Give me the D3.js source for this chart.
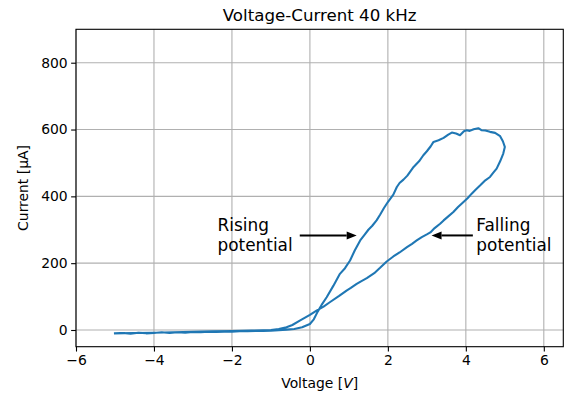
<!DOCTYPE html>
<html>
<head>
<meta charset="utf-8">
<script src="https://cdn.jsdelivr.net/npm/d3@7"></script>
<style>
html,body{margin:0;padding:0;background:#fff;}
svg{display:block;}
text{font-family:"DejaVu Sans",sans-serif;fill:#000;}
</style>
</head>
<body>
<svg id="chart" width="565" height="394"></svg>
<script>
// ---- data ----
const title = "Voltage-Current 40 kHz";
const xTicks = [-6, -4, -2, 0, 2, 4, 6];
const yTicks = [0, 200, 400, 600, 800];
const xDomain = [-6, 6.5];
const yDomain = [-50, 900];

// measured loop: rising potential then falling potential (V in volts, I in µA)
const voltage = [
  -5.0,-4.8,-4.6,-4.4,-4.2,-4.0,-3.8,-3.6,-3.4,-3.2,-3.0,-2.8,-2.6,-2.4,-2.2,-2.0,-1.8,-1.6,-1.4,-1.2,-1.0,-0.8,-0.6,-0.4,-0.2,
  0.0,0.1,0.2,0.3,0.43,0.6,0.77,0.9,1.03,1.15,1.29,1.4,1.5,1.6,1.71,1.8,1.9,2.0,2.14,2.23,2.3,2.4,2.5,2.66,2.8,2.91,3.0,3.1,3.17,
  3.3,3.43,3.55,3.64,3.75,3.85,3.95,4.02,4.1,4.2,4.32,4.4,4.5,4.62,4.75,4.88,4.95,5.0,4.96,
  4.88,4.79,4.7,4.62,4.5,4.37,4.25,4.15,4.05,3.94,3.8,3.68,3.55,3.43,3.34,3.2,3.09,3.0,2.87,2.74,2.62,2.49,2.3,2.14,1.97,1.8,
  1.65,1.46,1.3,1.2,1.05,0.94,0.75,0.51,0.35,0.17,0.0,-0.26,-0.45,-0.6,-0.8,-1.0,-1.2,-1.5,-2.0,-2.5,-3.0,-3.5,-4.0,-4.5,-5.0
];
const current = [
  -10,-9,-11,-8,-10,-9,-7,-9,-7,-8,-6,-7,-5,-6,-5,-5,-4,-4,-3,-3,-2,-1,1,3,8,
  18,32,55,75,98,132,168,185,208,238,268,285,300,312,328,345,365,383,405,428,440,450,462,488,505,523,535,550,563,
  568,575,585,591,588,583,595,598,596,601,604,598,597,593,590,580,565,548,528,
  505,483,470,458,448,433,420,408,395,383,368,353,340,328,318,305,292,286,278,268,258,248,232,220,205,186,
  170,155,145,138,126,118,102,83,70,58,45,28,15,8,3,0,-1,-2,-3,-4,-5,-7,-8,-9,-10
];

// annotations: text, text anchor position (data), arrow tail (data), arrow tip (data)
const annTexts = [["Rising", "potential"], ["Falling", "potential"]];
const annTextV = [-2.37, 4.27];
const annTextI = [297, 297];
const annTailV = [-0.26, 4.18];
const annTipV = [1.2, 3.12];
const annArrowI = [283, 283];

// ---- layout ----
const svg = d3.select("#chart");
const m = {left: 76, right: 563.3, top: 29.3, bottom: 346.7};
const x = d3.scaleLinear().domain(xDomain).range([m.left, m.right]);
const y = d3.scaleLinear().domain(yDomain).range([m.bottom, m.top]);
const fmt = d => (d < 0 ? "\u2212" + Math.abs(d) : String(d));

svg.append("rect").attr("width", 565).attr("height", 394).attr("fill", "#fff");

// grid
const grid = svg.append("g");
grid.selectAll(".gx").data(xTicks).enter().append("line")
  .attr("x1", d => x(d)).attr("x2", d => x(d)).attr("y1", m.top).attr("y2", m.bottom)
  .attr("stroke", "#b0b0b0").attr("stroke-width", 1.1);
grid.selectAll(".gy").data(yTicks).enter().append("line")
  .attr("y1", d => y(d)).attr("y2", d => y(d)).attr("x1", m.left).attr("x2", m.right)
  .attr("stroke", "#b0b0b0").attr("stroke-width", 1.1);

// curve
const pts = voltage.map((v, i) => [v, current[i]]);
svg.append("path").datum(pts)
  .attr("d", d3.line().x(d => x(d[0])).y(d => y(d[1])))
  .attr("fill", "none").attr("stroke", "#1f77b4").attr("stroke-width", 2.08)
  .attr("stroke-linejoin", "round").attr("stroke-linecap", "square");

// axes
const xAxis = svg.append("g").attr("transform", `translate(0,${m.bottom})`)
  .call(d3.axisBottom(x).tickValues(xTicks).tickFormat(fmt).tickSize(4.86).tickPadding(3.5));
const yAxis = svg.append("g").attr("transform", `translate(${m.left},0)`)
  .call(d3.axisLeft(y).tickValues(yTicks).tickFormat(fmt).tickSize(4.86).tickPadding(3.5));
[xAxis, yAxis].forEach(g => {
  g.select(".domain").remove();
  g.selectAll("line").attr("stroke", "#000").attr("stroke-width", 1.1);
  g.selectAll("text").attr("font-family", "DejaVu Sans").attr("font-size", "13.9px").attr("fill", "#000");
});

// spines
svg.append("rect").attr("x", m.left).attr("y", m.top)
  .attr("width", m.right - m.left).attr("height", m.bottom - m.top)
  .attr("fill", "none").attr("stroke", "#000").attr("stroke-width", 1.1);

// title & labels
svg.append("text").attr("x", (m.left + m.right) / 2).attr("y", 20.7)
  .attr("text-anchor", "middle").attr("font-size", "16.67px").text(title);
const xl = svg.append("text").attr("x", (m.left + m.right) / 2).attr("y", 387.7)
  .attr("text-anchor", "middle").attr("font-size", "13.9px");
xl.append("tspan").text("Voltage [");
xl.append("tspan").attr("font-style", "italic").text("V");
xl.append("tspan").text("]");
svg.append("text").attr("transform", `translate(28,${(m.top + m.bottom) / 2}) rotate(-90)`)
  .attr("text-anchor", "middle").attr("font-size", "13.9px").text("Current [\u03bcA]");

// annotations
annTexts.forEach((lines, i) => {
  const t = svg.append("text").attr("font-size", "16.9px");
  lines.forEach((ln, j) => {
    t.append("tspan").attr("x", x(annTextV[i])).attr("y", y(annTextI[i]) + j * 20).text(ln);
  });
  const x0 = x(annTailV[i]), x1 = x(annTipV[i]), yy = y(annArrowI[i]);
  const dir = Math.sign(x1 - x0);
  const hl = 10, hw = 4;
  svg.append("line").attr("x1", x0).attr("x2", x1 - dir * hl).attr("y1", yy).attr("y2", yy)
    .attr("stroke", "#000").attr("stroke-width", 2);
  svg.append("path")
    .attr("d", `M${x1},${yy} L${x1 - dir * hl},${yy - hw} L${x1 - dir * hl},${yy + hw} Z`)
    .attr("fill", "#000");
});
</script>
</body>
</html>
